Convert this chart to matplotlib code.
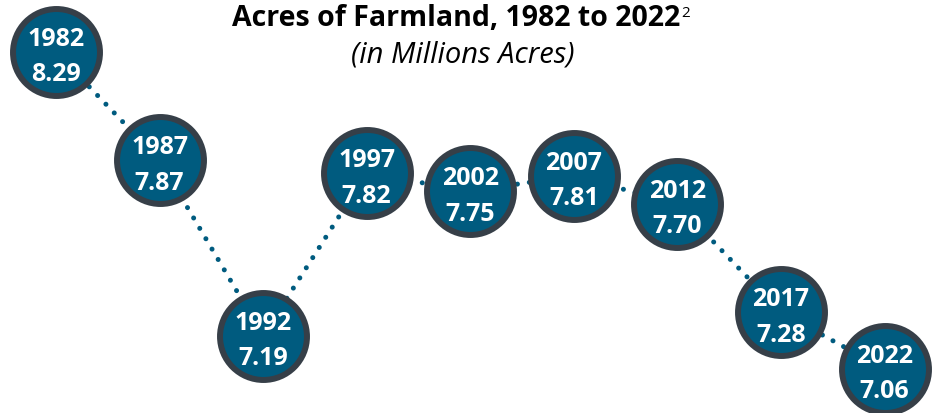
import matplotlib.pyplot as plt

# Dados
years = [1982, 1987, 1992, 1997, 2002, 2007, 2012, 2017, 2022]
acres = [8.29, 7.87, 7.19, 7.82, 7.75, 7.81, 7.70, 7.28, 7.06]

fill_color = '#005b7f'
edge_color = '#363f48'

fig = plt.figure(figsize=(9.38, 4.13), dpi=100)
ax = fig.add_axes([0, 0, 1, 1])
ax.set_xlim(1979.3, 2024.58)
ax.set_ylim(6.8895, 8.4915)
ax.axis('off')

# Linha pontilhada ligando os círculos
ax.plot(years, acres, color=fill_color, linewidth=3.6,
        linestyle=(0, (0.01, 2.4)), dash_capstyle='round', zorder=1)

# Círculos
ax.scatter(years, acres, s=3920, color=fill_color, edgecolor=edge_color,
           linewidth=4.3, zorder=2)

for year, value in zip(years, acres):
    ax.annotate(str(year), (year, value), xytext=(0, 9), textcoords='offset points',
                ha='center', va='center', color='white', fontsize=18,
                fontweight='bold', family='Open Sans', zorder=3)
    ax.annotate(f'{value:.2f}', (year, value), xytext=(0, -16.5), textcoords='offset points',
                ha='center', va='center', color='white', fontsize=18,
                fontweight='bold', family='Open Sans', zorder=3)

# Título
title = fig.text(0.486, 0.955, 'Acres of Farmland, 1982 to 2022', ha='center', va='center',
                 fontsize=20.5, fontweight='bold', family='Open Sans', color='black')
fig.text(0.493, 0.868, '(in Millions Acres)', ha='center', va='center',
         fontsize=21, style='italic', family='Open Sans', color='black')
ax.annotate('2', xy=(1, 0.95), xycoords=title, xytext=(1, 0), textcoords='offset points',
            ha='left', va='top', fontsize=11, family='Open Sans', color='black')

plt.savefig('out.png', dpi=100)
